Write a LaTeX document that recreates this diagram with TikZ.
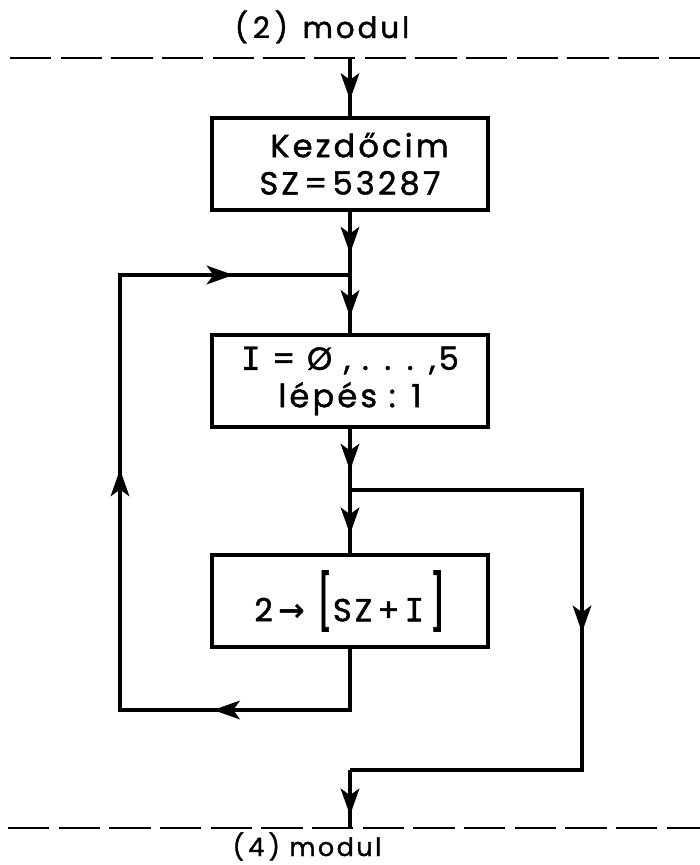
\documentclass[tikz,border=0pt]{standalone}
\usepackage{fontspec}
\setmainfont{Poppins}[LetterSpace=10, FakeBold=1.4]
\newfontfamily\ifont{DejaVu Sans Mono}[FakeBold=1.2]
\newfontfamily\symfont{DejaVu Sans}
\usetikzlibrary{arrows.meta,decorations.markings}
\tikzset{hd/.tip={Stealth[length=20pt,width=14pt,inset=5pt]}}

\begin{document}
\begin{tikzpicture}[x=0.75pt,y=-0.75pt,
  box/.style={draw, line width=2.8pt, minimum width=207pt, minimum height=69pt,
    align=center, font=\fontsize{24}{28}\selectfont},
  flow/.style={line width=2.4pt},
  mid/.style={postaction={decorate, decoration={markings,
    mark=at position #1 with {\arrow{hd}}}}},
  modline/.style={line width=2.2pt, dash pattern=on 31pt off 7pt},
  lbl/.style={font=\fontsize{22}{26}\selectfont, inner sep=0pt, anchor=base}]
  \useasboundingbox (0,0) rectangle (700,865);
  % module borders
  \coordinate (topl) at (10,58);
  \coordinate (topr) at (700,58);
  \coordinate (top) at (350,58);
  \coordinate (botl) at (8,828);
  \coordinate (botr) at (700,828);
  \coordinate (bot) at (350,828);
  \draw[modline] (topl) -- (topr);
  \draw[modline] (botl) -- (botr);
  \node[lbl] (modtop) at (322,38) {(\,2\,)\enspace modul};
  \node[lbl, font=\fontsize{19}{22}\selectfont] (modbot) at (307,856) {(\,4\,)\ modul};
  % boxes
  \node[box] (start) at (350,164) {\hspace*{0.6em}Kezdőcim\\SZ\,=\,53287};
  \node[box] (loop) at (350,381) {{\ifont I} = Ø , . . . ,5\\lépés : 1};
  \node[box] (poke) at (350,601) {2\,{\symfont\textbf{→}}\ \scalebox{1.2}[1.7]{[}SZ\,+\,{\ifont I}\,\scalebox{1.2}[1.7]{]}};
  % junctions
  \coordinate (j1) at (350,275);
  \coordinate (j1l) at (120,275);
  \coordinate (j2) at (350,490);
  \coordinate (j2r) at (582,490);
  \coordinate (back) at (350,710);
  \coordinate (backl) at (120,710);
  \coordinate (j3r) at (582,770);
  \coordinate (j3) at (350,770);
  % main flow
  \draw[flow, mid=0.72] (top) -- (start.north);
  \draw[flow, mid=0.66] (start.south) -- (j1);
  \draw[flow, mid=0.72] (j1) -- (loop.north);
  \draw[flow, mid=0.68] (loop.south) -- (j2);
  \draw[flow, mid=0.70] (j2) -- (poke.north);
  \draw[flow, mid=0.207, mid=0.556, mid=0.878, line join=miter] (poke.south) -- (back) -- (backl) -- (j1l) -- (j1); % loop back
  \draw[flow, mid=0.503, line join=miter] (j2) -- (j2r) -- (j3r) -- (j3); % exit
  \draw[flow, mid=0.78] (j3) -- (bot);
\end{tikzpicture}
\end{document}
